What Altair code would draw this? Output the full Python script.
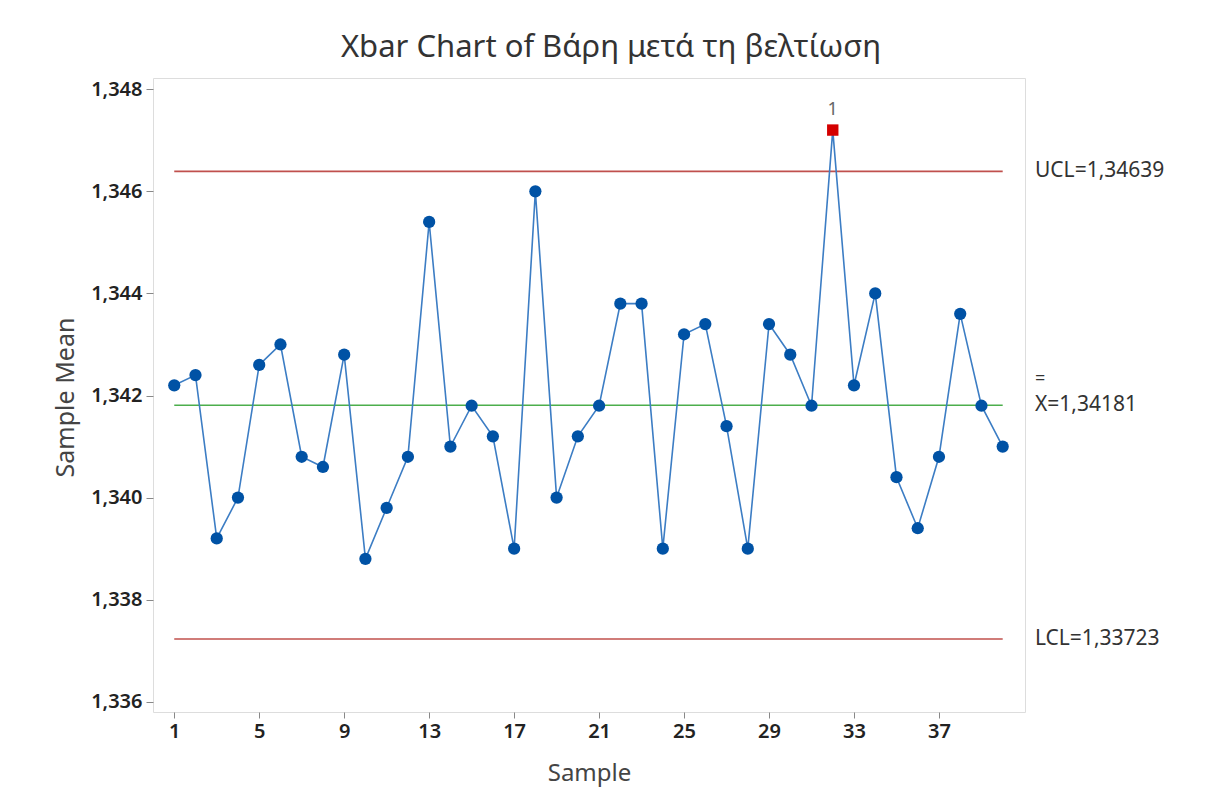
import altair as alt
import pandas as pd

# ---- data ----
samples = list(range(1, 41))
means = [1.3422, 1.3424, 1.3392, 1.3400, 1.3426, 1.3430, 1.3408, 1.3406, 1.3428, 1.3388,
         1.3398, 1.3408, 1.3454, 1.3410, 1.3418, 1.3412, 1.3390, 1.3460, 1.3400, 1.3412,
         1.3418, 1.3438, 1.3438, 1.3390, 1.3432, 1.3434, 1.3414, 1.3390, 1.3434, 1.3428,
         1.3418, 1.3472, 1.3422, 1.3440, 1.3404, 1.3394, 1.3408, 1.3436, 1.3418, 1.3410]
ucl = 1.34639
center = 1.34181
lcl = 1.33723
x_ticks = [1, 5, 9, 13, 17, 21, 25, 29, 33, 37]
y_ticks = [1.336, 1.338, 1.340, 1.342, 1.344, 1.346, 1.348]
limit_labels = ["UCL=1,34639", "X=1,34181", "LCL=1,33723"]
limit_values = [ucl, center, lcl]
limit_names = ["UCL", "CL", "LCL"]
limit_colors = ["#c0504d", "#4cae4c", "#c0504d"]

W, H = 872, 634
FONT = "Noto Sans"

df = pd.DataFrame({"sample": samples, "mean": means})
df["out"] = df["mean"] > ucl
lim = pd.DataFrame({"name": limit_names, "value": limit_values, "label": limit_labels,
                    "color": limit_colors, "x1": [1] * 3, "x2": [40] * 3})

xs = alt.Scale(domain=[0.0, 41.05], nice=False, zero=False)
ys = alt.Scale(domain=[1.33580, 1.34822], nice=False, zero=False)

x_axis = alt.Axis(values=x_ticks, title="Sample", grid=False, domain=False,
                  tickColor="#888", tickSize=6, labelFontSize=20, labelFont=FONT,
                  labelColor="#222", labelFontWeight=600, labelPadding=3,
                  titleFont=FONT, titleFontSize=24, titleFontWeight="normal",
                  titleColor="#444", titleX=W / 2, titleY=61, titleBaseline="middle")
y_axis = alt.Axis(values=y_ticks, title="Sample Mean", grid=False, domain=False,
                  tickColor="#888", tickSize=7, labelFontSize=20, labelFont=FONT,
                  labelColor="#222", labelFontWeight=600, labelPadding=4,
                  labelExpr="replace(format(datum.value, '.3f'), '.', ',')",
                  titleFont=FONT, titleFontSize=25, titleFontWeight="normal",
                  titleColor="#444", titleX=-88, titleY=H / 2 + 2, titleBaseline="middle",
                  titleAngle=-90)

rules = alt.Chart(lim).mark_rule(strokeWidth=1.6).encode(
    x=alt.X("x1:Q", scale=xs, axis=x_axis),
    x2="x2:Q",
    y=alt.Y("value:Q", scale=ys, axis=y_axis),
    color=alt.Color("color:N", scale=None),
)

line = alt.Chart(df).mark_line(color="#3c7dc4", strokeWidth=1.6).encode(
    x=alt.X("sample:Q", scale=xs),
    y=alt.Y("mean:Q", scale=ys),
)

pts = alt.Chart(df).transform_filter("!datum.out").mark_point(
    shape="circle", filled=True, size=150, color="#0052a5", opacity=1).encode(
    x=alt.X("sample:Q", scale=xs),
    y=alt.Y("mean:Q", scale=ys),
)

bad = alt.Chart(df).transform_filter("datum.out").mark_point(
    shape="square", filled=True, size=130, color="#d40000", opacity=1).encode(
    x=alt.X("sample:Q", scale=xs),
    y=alt.Y("mean:Q", scale=ys),
)

bad_lbl = alt.Chart(df).transform_filter("datum.out").mark_text(
    text="1", font=FONT, fontSize=18, color="#666", dy=-20).encode(
    x=alt.X("sample:Q", scale=xs),
    y=alt.Y("mean:Q", scale=ys),
)

lim_text = alt.Chart(lim).mark_text(
    align="left", baseline="middle", font=FONT, fontSize=21, color="#333").encode(
    x=alt.value(W + 10),
    y=alt.Y("value:Q", scale=ys),
    text="label:N",
)

bar_text = alt.Chart(lim).transform_filter("datum.name == 'CL'").mark_text(
    align="left", baseline="middle", font=FONT, fontSize=18, color="#333",
    text="=", dy=-26).encode(
    x=alt.value(W + 10),
    y=alt.Y("value:Q", scale=ys),
)

chart = alt.layer(rules, line, pts, bad, bad_lbl, lim_text, bar_text).properties(
    width=W, height=H,
    title=alt.TitleParams("Xbar Chart of Βάρη μετά τη βελτίωση", font=FONT,
                          fontSize=31, fontWeight="normal", color="#333", offset=14,
                          dx=22),
    autosize=alt.AutoSizeParams(type="none"),
    padding={"left": 145, "top": 70, "right": 180, "bottom": 80},
).configure_view(stroke="#a8a8a8", strokeWidth=1.5).configure(background="white")

chart.save("out.html", embed_options={"renderer": "svg", "actions": False})
